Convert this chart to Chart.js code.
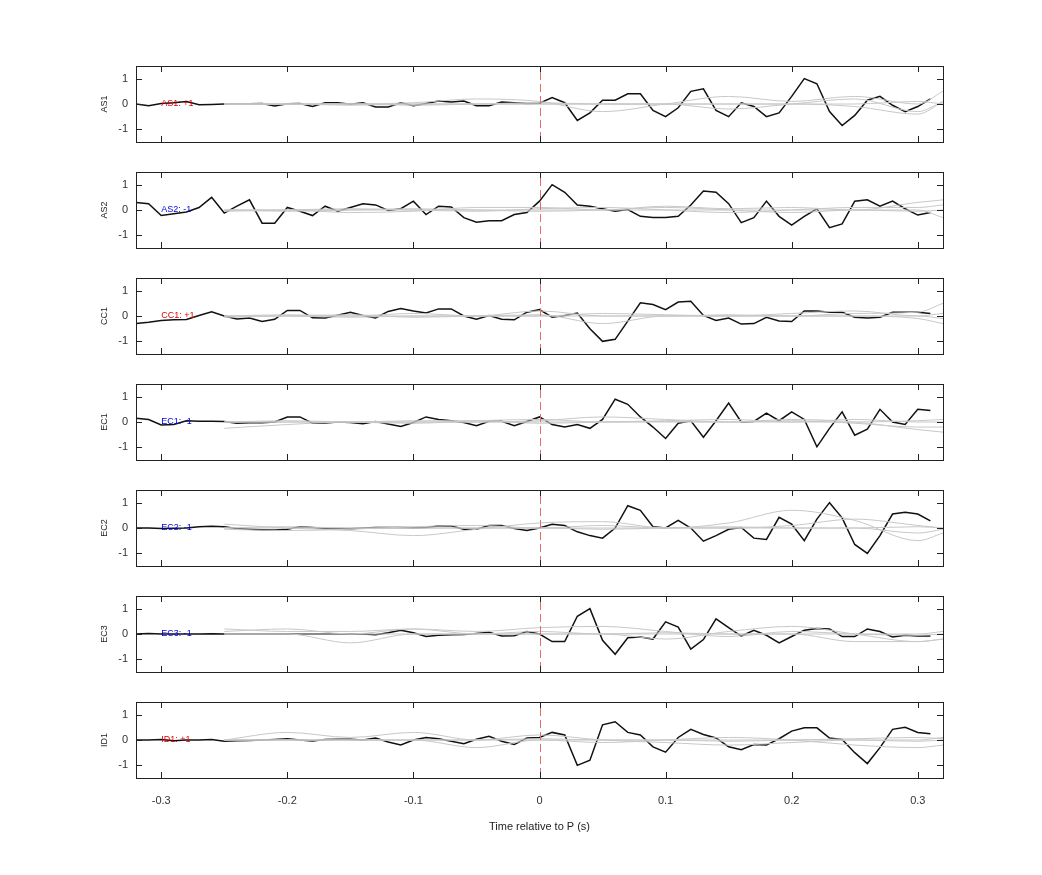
<!DOCTYPE html>
<html>
<head>
<meta charset="utf-8">
<script src="https://cdn.jsdelivr.net/npm/chart.js@4"></script>
<style>
  body { margin: 0; background: #fff; }
  #wrap { position: relative; width: 1042px; height: 875px; }
  canvas { position: absolute; }
</style>
</head>
<body>
<div id="wrap"></div>
<script>
// Time axis of the black traces (s)
const times = [];
for (let i = -32; i <= 31; i++) times.push(i / 100);

// Sample times of the smooth grey traces
const greyTimes = [-0.25, -0.2, -0.15, -0.1, -0.05, 0, 0.05, 0.1, 0.15, 0.2, 0.25, 0.3, 0.32];

const channels = ["AS1", "AS2", "CC1", "EC1", "EC2", "EC3", "ID1"];
const signs = ["+1", "-1", "+1", "-1", "-1", "-1", "+1"];
const xTicks = [-0.3, -0.2, -0.1, 0, 0.1, 0.2, 0.3];
const yTicks = [-1, 0, 1];

const as1 = [0,-0.07,0.02,0.05,0.1,-0.03,-0.02,0,0.01,0.01,0.02,-0.08,0.01,0.02,-0.1,0.05,0.05,-0.01,0.05,-0.12,-0.12,0.05,-0.07,0.02,0.12,0.08,0.12,-0.07,-0.07,0.08,0.05,0.02,0.03,
  0.25,0.05,-0.65,-0.35,0.15,0.15,0.4,0.4,-0.25,-0.5,-0.15,0.5,0.6,-0.25,-0.5,0.05,-0.1,-0.5,-0.35,0.3,1.0,0.8,-0.3,-0.85,-0.45,0.15,0.3,-0.05,-0.3,-0.1,0.2];
const as2 = [0.3,0.25,-0.22,-0.15,-0.08,0.1,0.5,-0.12,0.15,0.4,-0.52,-0.52,0.1,-0.05,-0.22,0.15,-0.05,0.1,0.25,0.2,-0.02,0.05,0.35,-0.18,0.15,0.12,-0.3,-0.48,-0.42,-0.42,-0.18,-0.1,0.35,
  1.0,0.7,0.2,0.15,0.05,-0.05,0.02,-0.25,-0.3,-0.3,-0.25,0.2,0.75,0.7,0.25,-0.5,-0.3,0.35,-0.25,-0.6,-0.25,0.05,-0.7,-0.55,0.35,0.4,0.15,0.35,0.05,-0.2,-0.1];
const cc1 = [-0.3,-0.25,-0.18,-0.15,-0.14,0.02,0.17,0,-0.12,-0.08,-0.22,-0.13,0.22,0.22,-0.07,-0.08,0.03,0.15,0.02,-0.08,0.18,0.3,0.2,0.12,0.28,0.28,0,-0.13,0.02,-0.13,-0.15,0.15,0.25,
  -0.05,0.02,0.12,-0.5,-1.0,-0.92,-0.2,0.52,0.45,0.25,0.55,0.58,0.02,-0.18,-0.08,-0.32,-0.3,-0.05,-0.2,-0.22,0.2,0.2,0.15,0.15,-0.05,-0.08,-0.05,0.15,0.15,0.15,0.1];
const ec1 = [0.15,0.1,-0.12,-0.1,0.05,0.03,0.03,0.02,-0.05,-0.03,-0.03,0,0.2,0.2,-0.05,-0.04,0,-0.02,-0.07,0.02,-0.08,-0.18,-0.02,0.2,0.1,0.05,-0.02,-0.15,0.03,0.03,-0.15,0.02,0.2,
  -0.1,-0.2,-0.1,-0.25,0.1,0.9,0.7,0.2,-0.2,-0.65,-0.05,0.05,-0.6,0.05,0.75,0,0.02,0.35,0.05,0.4,0.1,-0.98,-0.25,0.4,-0.52,-0.28,0.5,0,-0.1,0.5,0.45];
const ec2 = [0,0,-0.02,-0.01,0,0.05,0.07,0.05,-0.02,-0.05,-0.07,-0.08,-0.05,0.05,0.02,-0.02,-0.03,-0.03,0,0.02,0.02,0.02,0.01,0.02,0.08,0.08,-0.05,-0.05,0.1,0.1,-0.02,-0.1,0,
  0.15,0.1,-0.15,-0.3,-0.4,0,0.88,0.7,0.05,0,0.3,0,-0.52,-0.3,-0.05,0.02,-0.4,-0.45,0.42,0.15,-0.5,0.35,1.0,0.4,-0.65,-1.0,-0.3,0.55,0.62,0.55,0.28];
const ec3 = [0,0.02,0,0,0,0,0.01,0,0,0,0,0,0,0,0,0,0,0,0,-0.03,0.05,0.15,0.05,-0.1,-0.05,-0.03,-0.02,0.02,0.07,-0.08,-0.07,0.1,0,
  -0.3,-0.3,0.7,1.0,-0.25,-0.8,-0.15,-0.12,-0.2,0.48,0.27,-0.6,-0.22,0.6,0.25,-0.08,0.15,-0.05,-0.35,-0.1,0.15,0.22,0.2,-0.1,-0.1,0.2,0.1,-0.12,-0.05,-0.08,-0.08];
const id1 = [0,0,0.02,-0.03,0,0,0.02,-0.05,-0.03,-0.02,0,0.02,0.05,0,-0.04,0.02,0.03,0.03,0,0.08,-0.08,-0.2,0,0.1,0.05,-0.05,-0.15,0.03,0.15,-0.05,-0.18,0.08,0.1,
  0.3,0.2,-1.0,-0.8,0.6,0.72,0.3,0.2,-0.27,-0.48,0.1,0.42,0.22,0.08,-0.27,-0.38,-0.18,-0.2,0.05,0.35,0.48,0.48,0.08,0.02,-0.5,-0.93,-0.3,0.42,0.5,0.3,0.25];
const blackSeries = [as1, as2, cc1, ec1, ec2, ec3, id1];

// grey traces per panel
const greyAS1 = [[0,0,0,0.05,0.2,0.1,-0.3,0,0.3,0.1,0.3,0,0.5],[0,0,-0.05,0,0,0,0,0,-0.2,0,0.2,-0.3,0.1],[0,0,0,0,0,0,0,0,0,0,-0.1,-0.4,0.1],[0,0,0,-0.05,0,0.05,0,0,0,0,0,0.1,0]];
const greyAS2 = [[0,0,-0.1,-0.05,0.1,0.1,0,0.15,0.05,0.1,0,0.3,0.4],[-0.05,0,0.05,0,-0.05,0.05,0.1,0,-0.1,0,0.1,0.1,0.2],[0,-0.05,0,0.05,0,-0.05,0,0.1,0,-0.1,0,0,-0.3],[0,0,0,0,0,0,0,0,0,0,0,-0.05,0]];
const greyCC1 = [[0,0.05,0,0.1,0,0.2,0,0,0.05,0,0.1,0.15,0.5],[-0.05,0,0.05,-0.05,0,0.05,-0.3,0,0,0,0,-0.1,-0.3],[0,0,-0.05,0,0,0,0.1,0.05,0,0.1,0.2,0,0.1],[0,0,0,0,0,0,0,0,0,0,0,0,-0.1]];
const greyEC1 = [[-0.25,-0.1,0,0,0,0.05,0.2,0.1,0,0.1,0,-0.3,-0.4],[0,0,0,0.05,0.05,-0.05,0,0.05,0.1,0,0.1,0,0],[0,0.05,0,-0.05,0.05,0.1,0,0.02,0,0.05,-0.05,-0.2,-0.2],[0,0,0,0,0,0,0,0,0,0,0,0.05,0.1]];
const greyEC2 = [[0.15,0,-0.1,-0.3,-0.05,0.2,0.25,0,0.2,0.7,0.3,-0.5,-0.2],[-0.05,-0.1,-0.05,0.05,0.1,0,0.1,0,0,0.1,0.35,0.1,0],[0,0,0,0,0,0,0,0,0,0,0,-0.2,-0.05],[0,0.05,0,0,0,0,-0.05,0,0.05,0,0,0.05,0]];
const greyEC3 = [[0.2,0.1,0.1,0.2,0.1,0.25,0.3,0.1,-0.1,0.1,0,-0.05,0],[0.1,0.2,0,0.2,0,0,0,-0.2,0.1,0.3,0,-0.3,-0.2],[0,0,-0.35,0,0,0.1,0,0.05,0,0,-0.3,-0.3,-0.2],[0,0,0,0,0,0,0,0,0,0,0,0,0.1]];
const greyID1 = [[0,0.3,0.1,0.3,0,0.2,0,-0.1,-0.2,-0.1,0,0,0.1],[0,0,0,0,-0.3,0,-0.1,0,0.1,0,-0.2,-0.3,-0.2],[0,0,0,0,0,0.05,0,0,-0.05,0,0.05,0.1,0.05],[0,0,0,0,0,0,0,0,0,0,0,-0.05,0]];
const greySeries = [greyAS1, greyAS2, greyCC1, greyEC1, greyEC2, greyEC3, greyID1];

const FONT = "Liberation Sans, Arial, sans-serif";
const PAD = 11;

// box, inward ticks, zero marker and channel label
const decor = {
  id: "decor",
  afterDatasetsDraw(chart, args, opts) {
    const { ctx, chartArea: a, scales: { x, y } } = chart;
    ctx.save();
    // dashed line at t = 0
    const x0 = Math.round(x.getPixelForValue(0)) + 0.5;
    ctx.strokeStyle = "#e86a6a";
    ctx.lineWidth = 1;
    ctx.setLineDash([8, 4]);
    ctx.beginPath(); ctx.moveTo(x0, a.top + 6); ctx.lineTo(x0, a.bottom - 6); ctx.stroke();
    ctx.setLineDash([]);
    // label
    ctx.font = "9px " + FONT;
    ctx.fillStyle = opts.color;
    ctx.textBaseline = "middle";
    ctx.fillText(opts.text, x.getPixelForValue(-0.3), y.getPixelForValue(0));
    // box
    ctx.strokeStyle = "#222";
    ctx.lineWidth = 1;
    ctx.strokeRect(a.left + 0.5, a.top + 0.5, a.right - a.left, a.bottom - a.top);
    ctx.beginPath();
    xTicks.forEach(v => {
      const px = Math.round(x.getPixelForValue(v)) + 0.5;
      ctx.moveTo(px, a.top); ctx.lineTo(px, a.top + 6);
      ctx.moveTo(px, a.bottom); ctx.lineTo(px, a.bottom - 6);
    });
    yTicks.forEach(v => {
      const py = Math.round(y.getPixelForValue(v)) + 0.5;
      ctx.moveTo(a.left, py); ctx.lineTo(a.left + 6, py);
      ctx.moveTo(a.right, py); ctx.lineTo(a.right - 6, py);
    });
    ctx.stroke();
    ctx.restore();
  }
};

const wrap = document.getElementById("wrap");
channels.forEach((name, i) => {
  const last = i === channels.length - 1;
  const top = 66 + i * 106;
  const cv = document.createElement("canvas");
  const h = last ? 76 + PAD + 60 : 76 + 2 * PAD;
  cv.style.left = "80px";
  cv.style.top = (top - PAD) + "px";
  cv.style.width = "872px";
  cv.style.height = h + "px";
  cv.width = 872; cv.height = h;
  wrap.appendChild(cv);

  const datasets = greySeries[i].map(g => ({
    data: greyTimes.map((t, k) => ({ x: t, y: g[k] })),
    borderColor: "#c8c8c8", borderWidth: 1, pointRadius: 0, tension: 0.4, cubicInterpolationMode: "monotone"
  }));
  datasets.push({
    data: times.map((t, k) => ({ x: t, y: blackSeries[i][k] })),
    borderColor: "#111", borderWidth: 1.5, pointRadius: 0, tension: 0
  });

  new Chart(cv, {
    type: "line",
    data: { datasets },
    plugins: [decor],
    options: {
      responsive: false, animation: false, clip: true,
      layout: { padding: { top: PAD, bottom: last ? 0 : PAD, right: 9, left: 0 } },
      plugins: {
        legend: { display: false }, tooltip: { enabled: false },
        decor: { text: name + ": " + signs[i], color: signs[i] === "+1" ? "#e00000" : "#0000e0" }
      },
      scales: {
        x: {
          type: "linear", min: -0.32, max: 0.32,
          afterBuildTicks: s => { s.ticks = xTicks.map(v => ({ value: v })); },
          afterFit: s => { s.height = last ? 60 : 0; },
          grid: { display: false }, border: { display: false },
          ticks: { display: last, color: "#333", font: { family: FONT, size: 11 }, padding: 8, maxRotation: 0,
                   callback: v => String(v) },
          title: { display: last, text: "Time relative to P (s)", color: "#222", font: { family: FONT, size: 11 }, padding: { top: 8 } }
        },
        y: {
          min: -1.5, max: 1.5,
          afterBuildTicks: s => { s.ticks = yTicks.map(v => ({ value: v })); },
          afterFit: s => { s.width = 56; },
          grid: { display: false }, border: { display: false },
          ticks: { color: "#333", font: { family: FONT, size: 11 }, padding: 0 },
          title: { display: true, text: name, color: "#222", font: { family: FONT, size: 9 }, padding: { top: 19, bottom: 0 } }
        }
      }
    }
  });
});
</script>
</body>
</html>
